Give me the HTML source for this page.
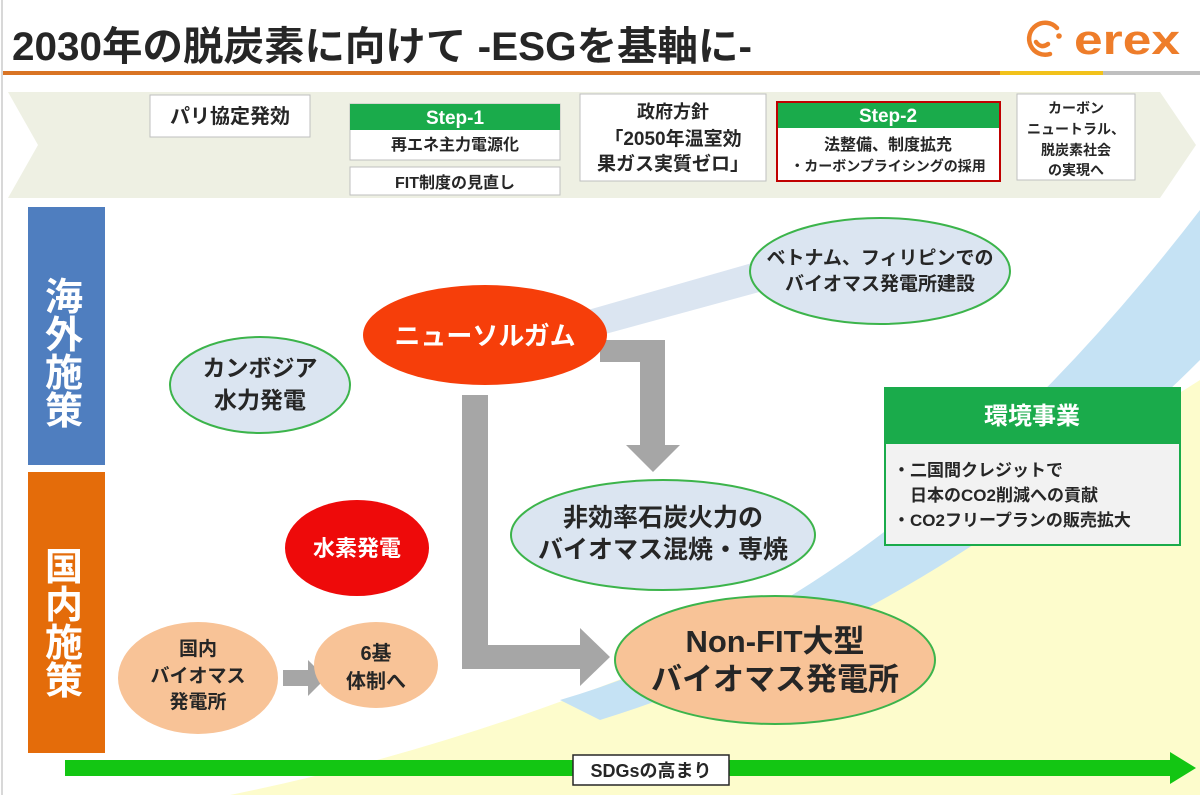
<!DOCTYPE html>
<html><head><meta charset="utf-8"><style>
html,body{margin:0;padding:0;background:#fff;}
svg{display:block;font-family:"Liberation Sans","Noto Sans CJK JP",sans-serif;font-weight:bold;}
</style></head><body>
<svg width="1200" height="795" viewBox="0 0 1200 795" xmlns="http://www.w3.org/2000/svg">
<rect x="0" y="0" width="1200" height="795" fill="#fff"/>
<rect x="1" y="0" width="2" height="795" fill="#d8d8d8"/>
<!-- title -->
<text x="12" y="60" font-size="40" fill="#262626" textLength="740" lengthAdjust="spacingAndGlyphs">2030年の脱炭素に向けて -ESGを基軸に-</text>
<rect x="3" y="71" width="997" height="4" fill="#d97424"/>
<rect x="1000" y="71" width="103" height="4" fill="#f2c21b"/>
<rect x="1103" y="71" width="97" height="4" fill="#bfbfbf"/>
<!-- logo -->
<g fill="none" stroke="#ee7d2a" stroke-width="4.5" stroke-linecap="round">
<path d="M1050 54 A16 16 0 1 1 1057 28"/>
<path d="M1036 42 q5 7 12 2"/>
</g>
<circle cx="1059" cy="36" r="2.8" fill="#ee7d2a"/>
<text x="1074" y="54" font-size="42" fill="#ee7d2a" textLength="106" lengthAdjust="spacingAndGlyphs">erex</text>
<!-- banner -->
<polygon points="8,92 1160,92 1196,145 1160,198 8,198 38,145" fill="#eef0e3"/>
<g font-size="18" fill="#262626" text-anchor="middle">
<rect x="150" y="95" width="160" height="42" fill="#fff" stroke="#bfbfbf"/>
<text x="230" y="123" font-size="20">パリ協定発効</text>
<rect x="350" y="104" width="210" height="56" fill="#fff" stroke="#bfbfbf"/>
<rect x="350" y="104" width="210" height="26" fill="#1aab4b"/>
<text x="455" y="124" fill="#fff" font-size="19">Step-1</text>
<text x="455" y="150" font-size="16">再エネ主力電源化</text>
<rect x="350" y="167" width="210" height="28" fill="#fff" stroke="#bfbfbf"/>
<text x="455" y="188" font-size="16">FIT制度の見直し</text>
<rect x="580" y="94" width="186" height="87" fill="#fff" stroke="#bfbfbf"/>
<text x="673" y="118" font-size="18">政府方針</text>
<text x="673" y="145" font-size="19">「2050年温室効</text>
<text x="673" y="170" font-size="19">果ガス実質ゼロ」</text>
<rect x="777" y="102" width="223" height="79" fill="#fff" stroke="#c00000" stroke-width="2"/>
<rect x="778" y="103" width="221" height="25" fill="#1aab4b"/>
<text x="888" y="122" fill="#fff" font-size="19">Step-2</text>
<text x="888" y="150" font-size="16">法整備、制度拡充</text>
<text x="888" y="171" font-size="14">・カーボンプライシングの採用</text>
<rect x="1017" y="94" width="118" height="86" fill="#fff" stroke="#bfbfbf"/>
<text x="1076" y="113" font-size="14">カーボン</text>
<text x="1076" y="134" font-size="14">ニュートラル、</text>
<text x="1076" y="155" font-size="14">脱炭素社会</text>
<text x="1076" y="175" font-size="14">の実現へ</text>
</g>
<!-- background curves -->
<path d="M230 795 Q700 700 1200 380 L1200 795 Z" fill="#fdfccc"/>
<path d="M560 700 Q900 600 1200 210 L1200 360 Q950 610 600 720 Z" fill="#c5e2f4"/>
<!-- light band to vietnam -->
<polygon points="560,318 780,255 785,285 565,345" fill="#dbe5f1"/>
<!-- left bars -->
<rect x="28" y="207" width="77" height="258" fill="#4f7ebf"/>
<rect x="28" y="472" width="77" height="281" fill="#e46c0a"/>
<g fill="#fff" font-size="38" text-anchor="middle">
<text x="64" y="310">海</text><text x="64" y="348">外</text><text x="64" y="386">施</text><text x="64" y="424">策</text>
<text x="64" y="580">国</text><text x="64" y="618">内</text><text x="64" y="656">施</text><text x="64" y="694">策</text>
</g>
<!-- arrows -->
<g fill="#a6a6a6">
<polygon points="600,340 665,340 665,445 680,445 653,472 626,445 640,445 640,362 600,362"/>
<polygon points="462,395 488,395 488,645 580,645 580,628 610,657 580,686 580,669 462,669"/>
<polygon points="283,670 308,670 308,660 326,678 308,696 308,686 283,686"/>
</g>
<!-- ellipses -->
<g stroke="#3cb44b" stroke-width="2">
<ellipse cx="880" cy="271" rx="130" ry="53" fill="#dbe5f1"/>
<ellipse cx="260" cy="385" rx="90" ry="48" fill="#dbe5f1"/>
<ellipse cx="663" cy="535" rx="152" ry="55" fill="#dbe5f1"/>
<ellipse cx="775" cy="660" rx="160" ry="64" fill="#f8c397"/>
</g>
<ellipse cx="485" cy="335" rx="122" ry="50" fill="#f63e0a"/>
<ellipse cx="357" cy="548" rx="72" ry="48" fill="#ee0a0a"/>
<ellipse cx="198" cy="678" rx="80" ry="56" fill="#f8c397"/>
<ellipse cx="376" cy="665" rx="62" ry="43" fill="#f8c397"/>
<g text-anchor="middle" fill="#262626">
<text x="880" y="264" font-size="19">ベトナム、フィリピンでの</text>
<text x="880" y="290" font-size="19">バイオマス発電所建設</text>
<text x="485" y="345" font-size="26" fill="#fff">ニューソルガム</text>
<text x="260" y="376" font-size="23">カンボジア</text>
<text x="260" y="408" font-size="23">水力発電</text>
<text x="663" y="526" font-size="25">非効率石炭火力の</text>
<text x="663" y="558" font-size="25">バイオマス混焼・専焼</text>
<text x="357" y="556" font-size="22" fill="#fff">水素発電</text>
<text x="775" y="652" font-size="31">Non-FIT大型</text>
<text x="775" y="690" font-size="31">バイオマス発電所</text>
<text x="198" y="655" font-size="19">国内</text>
<text x="198" y="682" font-size="19">バイオマス</text>
<text x="198" y="708" font-size="19">発電所</text>
<text x="376" y="660" font-size="20">6基</text>
<text x="376" y="688" font-size="20">体制へ</text>
</g>
<!-- environment box -->
<rect x="885" y="388" width="295" height="157" fill="#f2f2f2" stroke="#1aab4b" stroke-width="2"/>
<rect x="885" y="388" width="295" height="56" fill="#1aab4b"/>
<text x="1032" y="424" font-size="24" fill="#fff" text-anchor="middle">環境事業</text>
<g font-size="17" fill="#262626">
<text x="893" y="476">・二国間クレジットで</text>
<text x="910" y="501">日本のCO2削減への貢献</text>
<text x="893" y="526">・CO2フリープランの販売拡大</text>
</g>
<!-- SDGs arrow -->
<rect x="65" y="760" width="1110" height="16" fill="#13c613"/>
<polygon points="1170,752 1196,768 1170,784" fill="#13c613"/>
<rect x="573" y="755" width="156" height="30" fill="#fff" stroke="#262626" stroke-width="1.5"/>
<text x="651" y="777" font-size="18" fill="#262626" text-anchor="middle">SDGsの高まり</text>
</svg>
</body></html>
